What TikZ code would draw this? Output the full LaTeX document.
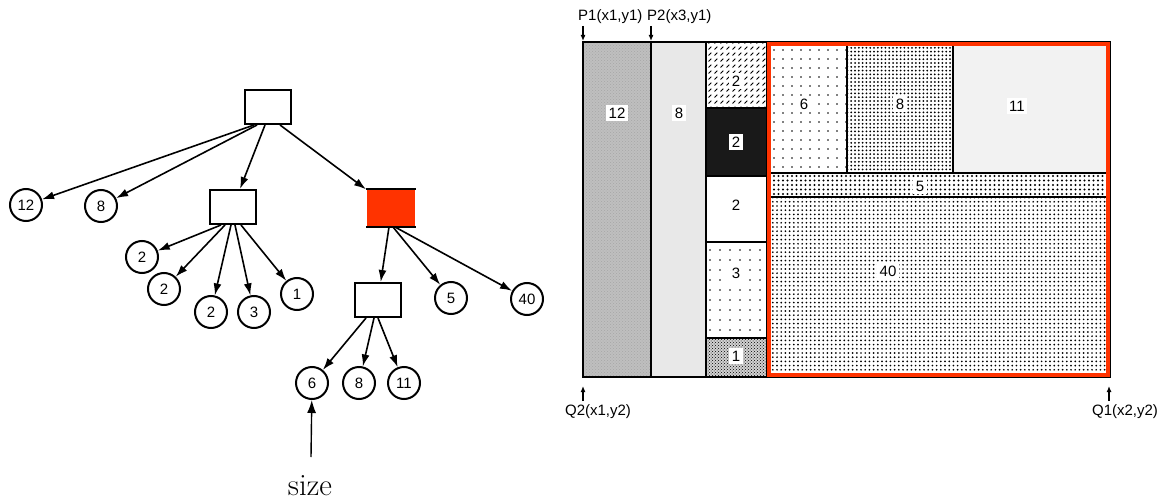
\documentclass[tikz,border=0pt]{standalone}
\usepackage{fontspec}
\setsansfont{Liberation Sans}
\usetikzlibrary{arrows.meta,patterns,patterns.meta}
\definecolor{hot}{RGB}{255,51,0}
\pgfdeclarepatternformonly{slashes}{\pgfpoint{-1pt}{-1pt}}{\pgfpoint{7pt}{7pt}}{\pgfpoint{6pt}{6pt}}{%
  \pgfsetlinewidth{1pt}%
  \pgfpathmoveto{\pgfpoint{0.5pt}{0.5pt}}\pgfpathlineto{\pgfpoint{3.3pt}{3.3pt}}\pgfusepath{stroke}}
\tikzset{
  leaf/.style={circle,draw,line width=2pt,minimum size=32pt,inner sep=0pt,font=\sffamily\fontsize{15}{15}\selectfont},
  inner/.style={rectangle,draw,line width=2pt,minimum width=46pt,minimum height=34pt,inner sep=0pt},
  edge/.style={line width=1.6pt,-{Latex[length=12pt,width=8pt]}},
  cell/.style={draw,line width=1.6pt},
  lab/.style={fill=white,inner sep=2.5pt,font=\sffamily\fontsize{15}{15}\selectfont},
  coord/.style={font=\sffamily\fontsize{15}{15}\selectfont,inner sep=0pt},
  pin/.style={line width=1.2pt,-{Latex[length=6pt,width=5pt]}}
}
\begin{document}
\begin{tikzpicture}[x=1pt,y=-1pt]
\useasboundingbox (0,0) rectangle (1167,500);
% ---------- tree ----------
\node[inner] (root) at (268,107) {};
\node[inner] (mid) at (233,207) {};
\node[inner,draw=none,fill=hot,minimum width=48pt,minimum height=36pt] (red) at (391,208) {};
\draw[line width=2pt] (red.north west) -- (red.north east);
\draw[line width=2pt] (red.south west) -- (red.south east);
\node[inner] (bot) at (378,300) {};
\node[leaf] (l12) at (26,205) {12};
\node[leaf] (l8) at (101,206) {8};
\node[leaf] (m1) at (142,257) {2};
\node[leaf] (m2) at (164,289) {2};
\node[leaf] (m3) at (211,312) {2};
\node[leaf] (m4) at (254,312) {3};
\node[leaf] (m5) at (297,294) {1};
\node[leaf] (r5) at (451,298) {5};
\node[leaf] (r40) at (527,299) {40};
\node[leaf] (b6) at (312,383) {6};
\node[leaf] (b8) at (359,383) {8};
\node[leaf] (b11) at (404,383) {11};
\draw[edge] ([xshift=-14pt]root.south) -- (l12);
\draw[edge] ([xshift=-11pt]root.south) -- (l8);
\draw[edge] ([xshift=-3pt]root.south) -- (mid);
\draw[edge] ([xshift=12pt]root.south) -- (red);
\draw[edge] ([xshift=-12pt]mid.south) -- (m1);
\draw[edge] ([xshift=-8pt]mid.south) -- (m2);
\draw[edge] ([xshift=-2pt]mid.south) -- (m3);
\draw[edge] ([xshift=2pt]mid.south) -- (m4);
\draw[edge] ([xshift=8pt]mid.south) -- (m5);
\draw[edge] ([xshift=-2pt]red.south) -- (bot);
\draw[edge] ([xshift=2pt]red.south) -- (r5);
\draw[edge] ([xshift=4pt]red.south) -- (r40);
\draw[edge] ([xshift=-12pt]bot.south) -- (b6);
\draw[edge] ([xshift=-4pt]bot.south) -- (b8);
\draw[edge] ([xshift=0pt]bot.south) -- (b11);
\node[font=\fontsize{31}{33}\selectfont,inner sep=0pt] (size) at (310,486) {size};
\coordinate (sizetop) at (311,457);
\draw[line width=1.4pt,-{Latex[length=13pt,width=9pt]}] (sizetop) -- (b6);
% ---------- treemap ----------
\fill[gray!50] (583,42) rectangle (651,377);
\fill[pattern=crosshatch dots,pattern color=black!35] (583,42) rectangle (651,377);
\fill[gray!18] (651,42) rectangle (706,377);
\fill[white] (706,42) rectangle (767,108);
\fill[pattern=slashes,pattern color=black] (706,42) rectangle (767,108);
\fill[black!90] (706,108) rectangle (767,176);
\fill[white] (706,176) rectangle (767,242);
\fill[pattern={Dots[radius=0.9pt,distance=10pt]},pattern color=black] (706,242) rectangle (767,338);
\fill[gray!35] (706,338) rectangle (767,377);
\fill[pattern=crosshatch dots,pattern color=black] (706,338) rectangle (767,377);
\fill[pattern={Dots[radius=0.9pt,distance=9pt]},pattern color=black] (767,42) rectangle (847,173);
\fill[pattern={Dots[radius=1pt,distance=3.8pt]},pattern color=black] (847,42) rectangle (953,173);
\fill[gray!10] (953,42) rectangle (1110,173);
\fill[pattern={Dots[radius=1.1pt,distance=4.5pt]},pattern color=black] (767,173) rectangle (1110,197);
\fill[pattern={Dots[radius=0.95pt,distance=4.2pt]},pattern color=black] (767,197) rectangle (1110,377);
% borders
\draw[cell] (583,42) rectangle (1110,377);
\draw[cell] (651,42) -- (651,377);
\draw[cell] (706,42) -- (706,377);
\draw[cell] (767,42) -- (767,377);
\draw[cell] (706,108) -- (767,108);
\draw[cell] (706,176) -- (767,176);
\draw[cell] (706,242) -- (767,242);
\draw[cell] (706,338) -- (767,338);
\draw[cell] (847,42) -- (847,173);
\draw[cell] (953,42) -- (953,173);
\draw[cell] (767,173) -- (1110,173);
\draw[cell] (767,197) -- (1110,197);
\draw[hot,line width=4pt] (769,44) rectangle (1108,375);
% labels
\node[lab] (t12) at (617,113) {12};
\node[lab] (t8) at (679,113) {8};
\node[lab] (t2a) at (736,81) {2};
\node[lab] (t2b) at (736,142) {2};
\node[lab] (t2c) at (736,205) {2};
\node[lab] (t3) at (736,273) {3};
\node[lab] (t1) at (736,356) {1};
\node[lab] (t6) at (804,104) {6};
\node[lab] (t8b) at (900,104) {8};
\node[lab] (t11) at (1017,106) {11};
\node[lab] (t5) at (920,186) {5};
\node[lab] (t40) at (888,271) {40};
% corner markers
\node[coord,anchor=west] (p1) at (578,17) {P1(x1,y1)};
\node[coord,anchor=west] (p2) at (647,17) {P2(x3,y1)};
\node[coord] (q2) at (598,412) {Q2(x1,y2)};
\node[coord] (q1) at (1125,412) {Q1(x2,y2)};
\coordinate (p1a) at (583,26); \coordinate (p1b) at (583,41);
\coordinate (p2a) at (651,26); \coordinate (p2b) at (651,41);
\coordinate (q2a) at (583,401); \coordinate (q2b) at (583,386);
\coordinate (q1a) at (1109,401); \coordinate (q1b) at (1109,386);
\draw[pin] (p1a) -- (p1b);
\draw[pin] (p2a) -- (p2b);
\draw[pin] (q2a) -- (q2b);
\draw[pin] (q1a) -- (q1b);
\end{tikzpicture}
\end{document}
